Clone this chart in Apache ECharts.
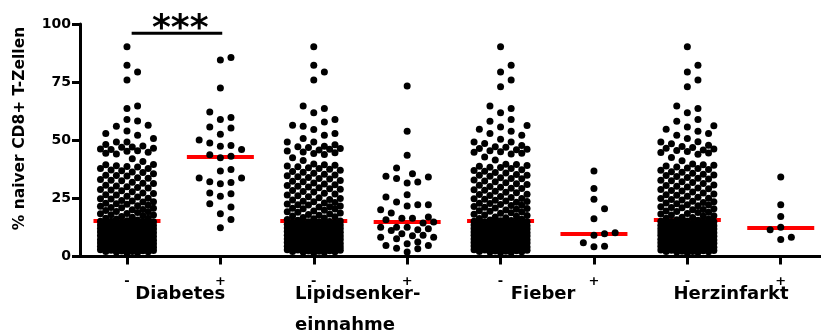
<!DOCTYPE html>
<html><head><meta charset="utf-8">
<script src="https://cdn.jsdelivr.net/npm/echarts@6/dist/echarts.min.js"></script>
<style>html,body{margin:0;padding:0;background:#fff}#c{width:821px;height:335px}</style>
</head><body><div id="c"></div>
<script>
// ---- data ----
const categories = ['-', '+', '-', '+', '-', '+', '-', '+'];
const groupLabels = [['Diabetes'], ['Lipidsenker-', 'einnahme'], ['Fieber'], ['Herzinfarkt']];
const yTicks = [0, 25, 50, 75, 100];
const yTitle = '% naiver CD8+ T-Zellen';
const significance = '***';
const medians = [15.5, 42.7, 15.4, 15.1, 15.4, 9.9, 15.6, 12.4];

const diabetesNeg = [90.2, 82.3, 79.4, 75.9, 64.7, 63.7, 58.9, 58.3, 56.5, 56.0, 54.0, 52.9, 52.2, 50.7, 49.3, 49.3, 48.2, 47.5, 47.1, 47.0, 46.6, 46.2, 46.0, 45.5, 45.3, 44.8, 44.4, 44.1, 42.0, 40.9,
  39.6, 39.5, 39.0, 38.7, 38.5, 37.9, 37.8, 37.2, 36.9, 36.3, 36.1, 35.6, 35.0,
  34.8, 34.6, 33.9, 33.7, 33.1, 32.8, 32.6, 31.9, 31.5, 31.4, 30.6, 30.3, 30.0,
  29.7, 29.5, 28.8, 28.6, 28.3, 27.8, 27.3, 27.1, 26.6, 26.4, 25.9, 25.6, 25.1,
  24.8, 24.7, 24.1, 23.9, 23.6, 23.4, 22.9, 22.7, 22.5, 22.0, 21.8, 21.6, 21.1, 21.0, 20.7, 20.2, 20.1, 19.8, 19.4, 19.2, 18.9, 18.5, 18.4, 18.0, 17.8, 17.5, 17.2, 16.9, 16.5, 16.4, 16.1, 15.7,
  15.4, 15.2, 15.2, 14.9, 14.7, 14.6, 14.2, 14.1, 13.9, 13.8, 13.4, 13.3, 13.1, 12.8, 12.7, 12.6, 12.2, 12.0, 11.9, 11.8, 11.4, 11.2, 11.1, 10.9, 10.6, 10.5, 10.3, 10.2, 9.9, 9.7,
  9.6, 9.3, 9.2, 9.0, 8.8, 8.6, 8.5, 8.1, 8.0, 7.9, 7.6, 7.5, 7.2, 7.1, 6.9, 6.7, 6.4, 6.3, 6.2, 5.9, 5.8, 5.5, 5.4, 5.3, 5.0, 4.8, 4.7, 4.4, 4.3, 4.1,
  3.9, 3.8, 3.5, 3.4, 3.2, 3.0, 2.9, 2.7, 2.5, 2.4, 2.2, 2.0, 1.9, 1.7,
  15.0, 14.4, 13.6, 12.9, 12.4, 11.6, 10.8, 10.0, 9.4, 8.3, 7.7, 7.0, 6.6, 6.0, 5.6, 5.1, 4.6, 4.0, 3.6, 3.1, 2.6, 2.1, 1.6, 8.9, 11.0, 13.0];
const diabetesPos = [84.5, 85.6, 72.5, 62.2, 58.9, 59.8, 55.3, 55.7, 52.6, 50.1, 48.8, 47.4, 47.7, 46.0, 43.1, 42.5, 43.8,
  36.8, 37.4, 33.8, 31.8, 31.3, 32.2, 33.8, 27.3, 25.9, 27.0, 21.3, 22.7, 18.4, 15.9, 12.4];
const lipidNeg = [90.2, 82.3, 79.4, 75.9, 64.7, 63.7, 61.8, 58.9, 57.9, 56.5, 56.0, 54.6, 52.9, 52.2, 50.7, 49.3, 49.3, 48.1, 47.4, 47.2, 46.9, 46.5, 46.1, 45.8, 45.4, 45.0, 44.6, 44.3, 43.9, 42.5, 41.3,
  39.8, 39.5, 39.2, 38.9, 38.6, 38.2, 37.9, 37.5, 37.1, 36.6, 36.2, 35.8, 35.4, 35.1,
  34.7, 34.3, 34.0, 33.5, 33.3, 32.7, 32.4, 32.1, 31.6, 31.2, 30.9, 30.5, 30.2,
  29.9, 29.6, 29.1, 28.9, 28.4, 28.0, 27.7, 27.2, 26.9, 26.5, 26.1, 25.7, 25.3,
  24.9, 24.5, 24.3, 23.8, 23.5, 23.2, 23.0, 22.6, 22.3, 22.1, 21.7, 21.4, 21.3, 20.8, 20.5, 20.4, 19.9, 19.6, 19.3, 19.0, 18.7, 18.3, 18.1, 17.7, 17.4, 17.1, 16.8, 16.6, 16.2, 15.9, 15.6,
  15.3, 15.1, 15.0, 14.8, 14.7, 14.5, 14.3, 14.0, 13.9, 13.7, 13.6, 13.3, 13.2, 13.0, 12.8, 12.6, 12.5, 12.3, 12.1, 11.9, 11.8, 11.6, 11.5, 11.2, 11.0, 10.9, 10.7, 10.4, 10.3, 10.1,
  9.9, 9.8, 9.5, 9.4, 9.1, 9.0, 8.8, 8.7, 8.4, 8.3, 8.1, 7.8, 7.7, 7.5, 7.3, 7.1, 7.0, 6.8, 6.5, 6.4, 6.2, 6.1, 5.9, 5.6, 5.5, 5.3, 5.1, 4.9, 4.8, 4.5,
  4.4, 4.2, 4.0, 3.9, 3.7, 3.5, 3.3, 3.2, 3.0, 2.8, 2.7, 2.5, 2.3, 2.2, 2.0, 1.8, 1.6,
  14.4, 13.4, 12.7, 12.0, 11.3, 10.6, 9.7, 9.2, 8.6, 8.0, 7.4, 6.7, 6.0, 5.4, 4.7, 4.1, 3.4, 2.9, 2.4, 1.9];
const lipidPos = [73.3, 53.9, 43.5, 38.1, 35.6, 34.5, 33.5, 34.2, 32.0, 31.6, 25.6, 26.6, 23.4, 22.3, 21.7, 22.3, 20.1, 18.7,
  16.5, 15.8, 17.0, 14.8, 16.5, 14.4, 12.6, 11.9, 12.6, 12.6, 11.2, 11.5, 9.8, 9.1, 8.3, 8.3, 8.9, 7.6, 6.2, 5.5, 4.7, 3.6, 3.3, 4.7, 1.9];
const fieberNeg = [90.2, 82.3, 79.4, 75.9, 73.0, 64.7, 63.7, 61.8, 58.9, 58.2, 56.3, 55.7, 54.7, 53.9, 52.9, 52.2, 50.4, 49.3, 49.3, 48.6, 47.7, 47.2, 47.0, 46.5, 46.1, 45.9, 45.5, 45.1, 44.8, 44.4, 44.1, 42.8, 41.5,
  39.7, 39.6, 39.1, 38.8, 38.4, 38.3, 37.8, 37.3, 37.0, 36.7, 36.1, 35.9, 35.3, 35.0,
  34.9, 34.5, 33.9, 33.6, 33.4, 32.9, 32.5, 32.2, 31.7, 31.3, 31.0, 30.6, 30.1,
  29.8, 29.4, 29.2, 28.7, 28.5, 28.1, 27.6, 27.4, 26.8, 26.7, 26.2, 25.8, 25.4, 25.0,
  24.8, 24.6, 24.2, 23.9, 23.7, 23.3, 22.9, 22.8, 22.4, 22.0, 21.9, 21.5, 21.2, 20.9, 20.6, 20.3, 20.0, 19.7, 19.5, 19.1, 18.8, 18.6, 18.2, 17.9, 17.6, 17.3, 17.0, 16.7, 16.3, 16.0, 15.7, 15.5,
  15.4, 15.2, 15.0, 14.9, 14.6, 14.5, 14.2, 14.1, 13.8, 13.7, 13.5, 13.3, 13.1, 12.9, 12.7, 12.5, 12.4, 12.2, 12.0, 11.9, 11.7, 11.5, 11.3, 11.1, 11.0, 10.8, 10.6, 10.4, 10.2, 10.1,
  9.9, 9.7, 9.5, 9.3, 9.2, 9.0, 8.8, 8.6, 8.5, 8.2, 8.0, 7.9, 7.7, 7.5, 7.3, 7.2, 6.9, 6.8, 6.6, 6.4, 6.2, 6.0, 5.8, 5.7, 5.4, 5.2, 5.1, 4.9, 4.6, 4.5,
  4.3, 4.1, 3.9, 3.8, 3.6, 3.4, 3.2, 3.1, 2.9, 2.7, 2.5, 2.4, 2.2, 2.0, 1.8, 1.7,
  14.8, 13.9, 13.2, 12.6, 11.8, 11.2, 10.5, 9.8, 9.1, 8.4, 7.8, 7.1, 6.5, 5.9, 5.3, 4.7, 4.0, 3.5, 2.8, 2.3, 1.9, 12.1, 9.6, 6.3];
const fieberPos = [36.8, 29.2, 24.6, 20.5, 16.2, 9.8, 9.1, 10.2, 5.9, 4.2, 4.4];
const herzNeg = [90.2, 82.3, 79.4, 75.9, 73.0, 64.7, 63.7, 61.8, 58.9, 58.2, 56.2, 55.7, 54.7, 53.9, 52.9, 52.2, 50.7, 49.4, 49.2, 48.5, 47.8, 47.3, 46.9, 46.6, 46.2, 45.8, 45.6, 45.2, 44.7, 44.5, 44.0, 42.6, 41.2,
  39.8, 39.5, 39.2, 38.9, 38.5, 38.1, 37.9, 37.4, 37.1, 36.5, 36.2, 35.8, 35.4, 35.1,
  34.8, 34.4, 34.0, 33.7, 33.3, 32.8, 32.6, 32.1, 31.8, 31.4, 30.8, 30.5, 30.2,
  29.9, 29.5, 29.1, 28.8, 28.4, 28.2, 27.7, 27.3, 26.9, 26.6, 26.3, 25.9, 25.5, 25.1,
  24.9, 24.5, 24.3, 23.8, 23.6, 23.2, 23.0, 22.7, 22.3, 22.1, 21.8, 21.4, 21.1, 21.0, 20.5, 20.2, 20.1, 19.6, 19.4, 19.0, 18.9, 18.5, 18.3, 17.8, 17.5, 17.4, 16.9, 16.8, 16.4, 16.1, 15.8, 15.6,
  15.3, 15.2, 15.1, 14.8, 14.7, 14.4, 14.3, 14.0, 13.9, 13.6, 13.4, 13.2, 13.0, 12.8, 12.6, 12.5, 12.3, 12.1, 11.9, 11.8, 11.6, 11.4, 11.2, 11.0, 10.9, 10.7, 10.5, 10.3, 10.2, 10.0,
  9.8, 9.6, 9.4, 9.3, 9.1, 8.9, 8.7, 8.6, 8.3, 8.1, 7.9, 7.8, 7.6, 7.4, 7.2, 7.0, 6.9, 6.7, 6.5, 6.3, 6.1, 5.9, 5.7, 5.6, 5.3, 5.1, 5.0, 4.8, 4.6, 4.4,
  4.2, 4.0, 3.9, 3.7, 3.5, 3.3, 3.1, 3.0, 2.8, 2.6, 2.5, 2.3, 2.1, 1.9, 1.8, 1.6,
  14.9, 14.1, 13.3, 12.7, 11.9, 11.3, 10.6, 9.9, 9.2, 8.5, 7.7, 7.1, 6.4, 5.8, 5.2, 4.5, 3.8, 3.4, 2.7, 2.2, 2.0, 12.2, 9.5, 6.2];
const herzPos = [34.2, 22.3, 17.2, 12.6, 11.5, 7.3, 8.3];

const groups = [diabetesNeg, diabetesPos, lipidNeg, lipidPos, fieberNeg, fieberPos, herzNeg, herzPos];

// ---- chart ----
const FONT = 'DejaVu Sans';
const chart = echarts.init(document.getElementById('c'), null, { renderer: 'canvas' });
const tickVals = categories.map((c, i) => i);

chart.setOption({
  animation: false,
  grid: { left: 80, right: 0, top: 24, bottom: 78.5, containLabel: false },
  xAxis: {
    type: 'value', min: -0.503, max: 7.431,
    splitLine: { show: false },
    axisLine: { show: true, onZero: false, lineStyle: { color: '#000', width: 3 } },
    axisTick: { show: true, length: 8, customValues: tickVals, lineStyle: { color: '#000', width: 3 } },
    axisLabel: { show: true, customValues: tickVals, formatter: v => categories[Math.round(v)],
      fontFamily: FONT, fontWeight: 'bold', fontSize: 13, color: '#000', margin: 19 }
  },
  yAxis: {
    type: 'value', min: yTicks[0], max: yTicks[yTicks.length - 1], interval: 25,
    splitLine: { show: false },
    axisLine: { show: true, onZero: false, lineStyle: { color: '#000', width: 3 } },
    axisTick: { show: true, length: 8, lineStyle: { color: '#000', width: 3 } },
    axisLabel: { fontFamily: FONT, fontWeight: 'bold', fontSize: 14, color: '#000', margin: 9 }
  },
  series: []
});

// scales from the library
const pA = chart.convertToPixel({ gridIndex: 0 }, [0, 0]);
const pB = chart.convertToPixel({ gridIndex: 0 }, [1, 100]);
const pxPerX = pB[0] - pA[0];
const pxPerY = (pA[1] - pB[1]) / 100;

function swarm(vals, center) {
  const sorted = vals.slice().sort((a, b) => a - b);
  const placed = [];
  const out = [];
  const step = 5.3, Dc = 10;
  const order = [0, 2, -2, 4, -4, 1, -1, 3, -3, 5, -5];
  for (const v of sorted) {
    const py = v * pxPerY;
    let best = 0, bestScore = -1;
    for (const k of order) {
      const x = k * step;
      let minD = Infinity;
      for (let j = placed.length - 1; j >= 0; j--) {
        const p = placed[j];
        const dy = py - p.y;
        if (dy >= Dc) break;
        const d = Math.hypot(x - p.x, dy);
        if (d < minD) minD = d;
      }
      if (minD >= Dc) { best = x; bestScore = Infinity; break; }
      if (minD > bestScore + 1e-9) { bestScore = minD; best = x; }
    }
    placed.push({ x: best, y: py });
    out.push([center + best / pxPerX, v]);
  }
  return out;
}

const points = [];
groups.forEach((g, i) => { swarm(g, i).forEach(p => points.push(p)); });

const halfW = 33.5 / pxPerX;
const medianLines = medians.map((m, i) => ({ coords: [[i - halfW, m], [i + halfW, m]] }));

const graphics = [];
// y axis title
graphics.push({ type: 'text', x: 20, y: 128.5, rotation: Math.PI / 2,
  style: { text: yTitle, font: 'bold 15.5px "DejaVu Sans"', fill: '#000', align: 'center', verticalAlign: 'middle' } });
// significance bracket
const b1 = chart.convertToPixel({ gridIndex: 0 }, [0.05, 96]);
const b2 = chart.convertToPixel({ gridIndex: 0 }, [1.02, 96]);
graphics.push({ type: 'line', shape: { x1: b1[0], y1: b1[1], x2: b2[0], y2: b2[1] }, style: { stroke: '#000', lineWidth: 3 } });
const sp = chart.convertToPixel({ gridIndex: 0 }, [0.57, 96]);
graphics.push({ type: 'text', x: sp[0], y: sp[1] + 14, style: { text: significance, font: 'bold 36px "DejaVu Sans"', fill: '#000', align: 'center', verticalAlign: 'bottom' } });
// group labels
const labelX = [0.57, 1.80, 4.455, 6.468];
const labelAlign = ['center', 'left', 'center', 'center'];
groupLabels.forEach((lines, gi) => {
  const px = chart.convertToPixel({ gridIndex: 0 }, [labelX[gi], 0])[0];
  lines.forEach((t, li) => {
    graphics.push({ type: 'text', x: px, y: 294.5 + li * 31.3,
      style: { text: t, font: 'bold 18px "DejaVu Sans"', fill: '#000', align: labelAlign[gi], verticalAlign: 'middle' } });
  });
});

chart.setOption({
  graphic: graphics,
  series: [
    { type: 'lines', coordinateSystem: 'cartesian2d', polyline: false, silent: true, z: 2,
      lineStyle: { color: '#ff0000', width: 4, opacity: 1 }, data: medianLines },
    { type: 'scatter', symbol: 'circle', symbolSize: 7, z: 3, silent: true,
      itemStyle: { color: '#000', opacity: 1 }, data: points }
  ]
});
</script></body></html>
